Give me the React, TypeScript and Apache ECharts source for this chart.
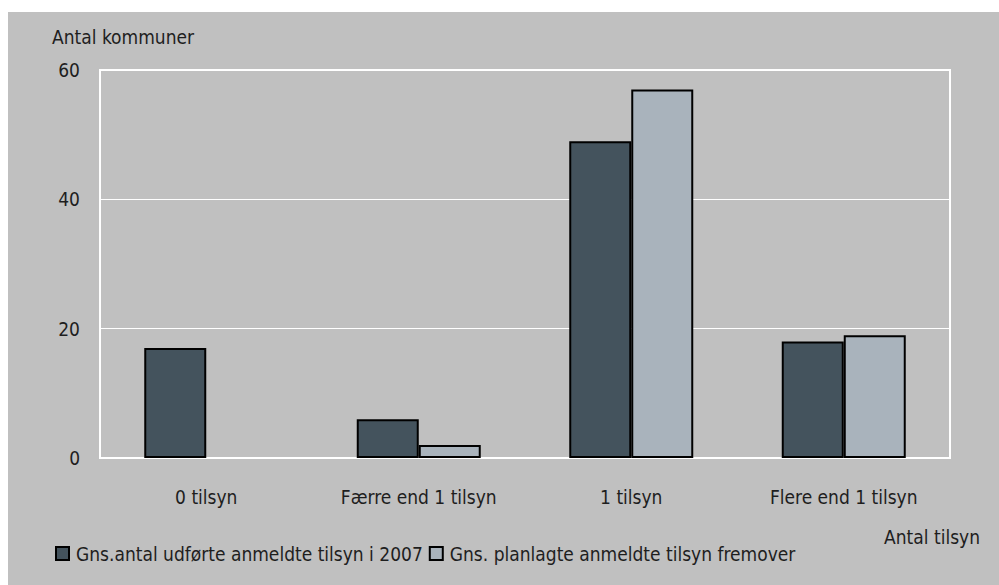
import React, { useEffect, useRef } from "react";
import * as echarts from "echarts";

const categories = ["0 tilsyn", "Færre end 1 tilsyn", "1 tilsyn", "Flere end 1 tilsyn"];
const seriesNames = ["Gns.antal udførte anmeldte tilsyn i 2007", "Gns. planlagte anmeldte tilsyn fremover"];
const performed = [17, 6, 49, 18];
const planned = [0, 2, 57, 19];
const yTicks = [0, 20, 40, 60];
const yAxisTitle = "Antal kommuner";
const xAxisTitle = "Antal tilsyn";

const FONT = "'DejaVu Sans Condensed', 'Liberation Sans Narrow', sans-serif";
const TEXT = "#1e1e1e";
const FS = 19;

const toData = (arr: number[]) =>
  arr.map((v) => (v === 0 ? { value: v, itemStyle: { borderWidth: 0 } } : v));

export default function App() {
  const ref = useRef<HTMLDivElement>(null);
  useEffect(() => {
    if (!ref.current) return;
    const chart = echarts.init(ref.current, undefined, { renderer: "svg" });
    chart.setOption({
      animation: false,
      backgroundColor: "#c0c0c0",
      textStyle: { fontFamily: FONT, color: TEXT },
      grid: {
        left: 92,
        top: 58,
        width: 850,
        height: 388,
        show: true,
        borderColor: "#ffffff",
        borderWidth: 2,
        backgroundColor: "transparent",
      },
      legend: {
        left: 42,
        top: 527,
        itemWidth: 13,
        itemHeight: 13,
        itemGap: 6,
        icon: "rect",
        textStyle: { fontFamily: FONT, fontSize: FS, color: TEXT, padding: [0, 0, 0, 2] },
        data: seriesNames,
      },
      xAxis: {
        type: "category",
        data: categories,
        axisLine: { show: false },
        axisTick: { show: false },
        axisLabel: { fontFamily: FONT, fontSize: FS, color: TEXT, margin: 29, interval: 0 },
      },
      yAxis: {
        type: "value",
        min: yTicks[0],
        max: yTicks[yTicks.length - 1],
        interval: yTicks[1] - yTicks[0],
        axisLine: { show: false },
        axisTick: { show: false },
        splitLine: { show: true, lineStyle: { color: "#ffffff", width: 1 } },
        axisLabel: { fontFamily: FONT, fontSize: FS, color: TEXT, margin: 20 },
      },
      graphic: [
        {
          type: "text",
          left: 44,
          top: 15,
          style: { text: yAxisTitle, font: `${FS}px ${FONT}`, fill: TEXT },
        },
        {
          type: "text",
          right: 19,
          top: 515,
          style: { text: xAxisTitle, font: `${FS}px ${FONT}`, fill: TEXT },
        },
      ],
      series: [
        {
          name: seriesNames[0],
          type: "bar",
          data: toData(performed),
          barWidth: 62,
          barGap: "0%",
          itemStyle: { color: "#44535d", borderColor: "#000000", borderWidth: 2 },
        },
        {
          name: seriesNames[1],
          type: "bar",
          data: toData(planned),
          barWidth: 62,
          barGap: "0%",
          itemStyle: { color: "#a9b3bc", borderColor: "#000000", borderWidth: 2 },
        },
      ],
    });
    return () => chart.dispose();
  }, []);
  return (
    <div
      ref={ref}
      style={{ position: "fixed", left: 8, top: 12, width: 991, height: 573 }}
    />
  );
}
